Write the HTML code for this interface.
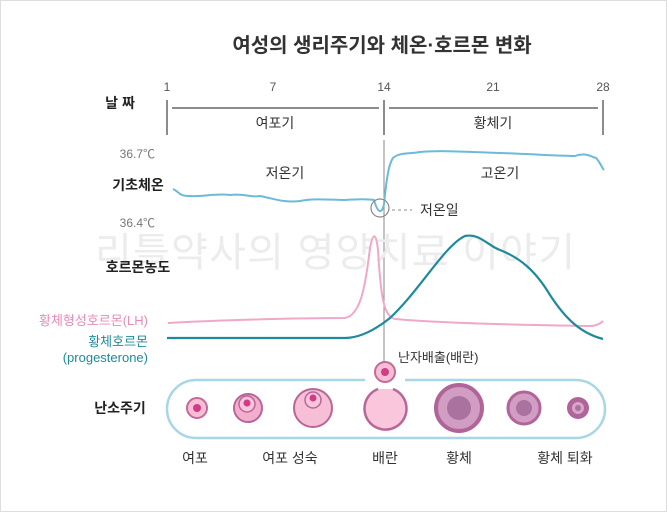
<!DOCTYPE html>
<html><head><meta charset="utf-8"><style>
html,body{margin:0;padding:0;background:#fff}
body{width:667px;height:512px;overflow:hidden;font-family:"Liberation Sans","Noto Sans CJK KR",sans-serif}
</style></head><body>
<svg width="667" height="512" viewBox="0 0 667 512" xmlns="http://www.w3.org/2000/svg" font-family="Liberation Sans, Noto Sans CJK KR, sans-serif">
<rect x="0.5" y="0.5" width="666" height="511" fill="#fff" stroke="#ddd"/>
<text x="382" y="52" font-size="20" text-anchor="middle" fill="#333" font-weight="bold">여성의 생리주기와 체온·호르몬 변화</text>
<g font-size="12" fill="#555" text-anchor="middle">
<text x="167" y="91">1</text><text x="273" y="91">7</text><text x="384" y="91">14</text><text x="493" y="91">21</text><text x="603" y="91">28</text>
</g>
<text x="120" y="108" font-size="14" fill="#222" font-weight="bold" text-anchor="middle">날 짜</text>
<g stroke="#666" stroke-width="1.5">
<line x1="167" y1="100" x2="167" y2="135"/><line x1="384" y1="100" x2="384" y2="135"/><line x1="603" y1="100" x2="603" y2="135"/>
<line x1="172" y1="108" x2="379" y2="108"/><line x1="389" y1="108" x2="598" y2="108"/>
</g>
<text x="275" y="128" font-size="14" fill="#333" text-anchor="middle">여포기</text>
<text x="493" y="128" font-size="14" fill="#333" text-anchor="middle">황체기</text>
<line x1="384" y1="140" x2="384" y2="368" stroke="#888" stroke-width="1"/>
<text x="335" y="266" font-size="40" fill="#ececec" text-anchor="middle" textLength="480">리틀약사의 영양치료 이야기</text>
<text x="155" y="158" font-size="12" fill="#777" text-anchor="end">36.7℃</text>
<text x="155" y="227" font-size="12" fill="#777" text-anchor="end">36.4℃</text>
<text x="138" y="190" font-size="14" fill="#222" font-weight="bold" text-anchor="middle">기초체온</text>
<text x="285" y="178" font-size="14" fill="#333" text-anchor="middle">저온기</text>
<text x="500" y="178" font-size="14" fill="#333" text-anchor="middle">고온기</text>
<path d="M173,189 C180,192 178,196 190,196 C205,197 215,193 230,195 C245,193 250,198 260,196 C275,199 285,203 300,201 C315,198 330,200 345,200 C358,199 368,199 374,200 C378,214 382,214 384,204 C386,185 388,165 393,158 C400,152 410,154 420,152 C440,150 470,152 500,153 C530,154 560,156 575,156 C585,152 592,157 596,158 C600,162 602,168 604,170" fill="none" stroke="#6bbbd8" stroke-width="2"/>
<circle cx="380" cy="208" r="9" fill="none" stroke="#888" stroke-width="1.2"/>
<line x1="392" y1="210" x2="412" y2="210" stroke="#888" stroke-dasharray="3,3"/>
<text x="420" y="215" font-size="14" fill="#333">저온일</text>
<text x="138" y="272" font-size="14" fill="#222" font-weight="bold" text-anchor="middle">호르몬농도</text>
<text x="148" y="325" font-size="13" fill="#e48bb6" text-anchor="end">황체형성호르몬(LH)</text>
<text x="148" y="346" font-size="13" fill="#1f8a9a" text-anchor="end">황체호르몬</text>
<text x="148" y="362" font-size="13" fill="#1f8a9a" text-anchor="end">(progesterone)</text>
<path d="M168,323 C220,320 300,318 345,318 C360,315 365,290 370,248 C373,232 376,232 378,250 C381,300 384,316 395,319 C440,323 520,325 590,326 C596,326 600,324 603,321" fill="none" stroke="#f0a8c8" stroke-width="2"/>
<path d="M167,338 L345,338 C360,338 375,330 390,318 C420,290 445,245 465,236 C480,233 488,246 500,250 C520,258 535,270 550,295 C565,318 580,333 603,339" fill="none" stroke="#1f8a9a" stroke-width="2.2"/>
<text x="398" y="362" font-size="13" fill="#333">난자배출(배란)</text>
<text x="120" y="413" font-size="14" fill="#222" font-weight="bold" text-anchor="middle">난소주기</text>
<path d="M365,380 L196,380 A29,29 0 0 0 196,438 L576,438 A29,29 0 0 0 576,380 L405,380" fill="none" stroke="#a8d6e6" stroke-width="2.5"/>
<circle cx="385" cy="372" r="10" fill="#f7bfd6" stroke="#c46a9a" stroke-width="2"/><circle cx="385" cy="372" r="4" fill="#d23b85"/>
<circle cx="197" cy="408" r="10" fill="#f7bfd6" stroke="#c46a9a" stroke-width="2"/><circle cx="197" cy="408" r="4" fill="#d23b85"/>
<circle cx="248" cy="408" r="14" fill="#f3aecd" stroke="#b8669a" stroke-width="2"/><circle cx="247" cy="404" r="8" fill="#f7c6db" stroke="#b8669a" stroke-width="1.5"/><circle cx="247" cy="403" r="3.5" fill="#d23b85"/>
<circle cx="313" cy="408" r="19" fill="#f7bfd6" stroke="#b8669a" stroke-width="2"/><circle cx="313" cy="400" r="8" fill="#f7c6db" stroke="#b8669a" stroke-width="1.5"/><circle cx="313" cy="398" r="3.5" fill="#d23b85"/>
<path d="M378,389 A21,21 0 1 0 393,389" fill="#f9c6dc" stroke="#b8669a" stroke-width="2.5"/>
<circle cx="459" cy="408" r="23" fill="#d19dc2" stroke="#b0649a" stroke-width="4"/><circle cx="459" cy="408" r="12" fill="#a9729f"/>
<circle cx="524" cy="408" r="16" fill="#d19dc2" stroke="#b0649a" stroke-width="3"/><circle cx="524" cy="408" r="8" fill="#a9729f"/>
<circle cx="578" cy="408" r="11" fill="#b0649a"/><circle cx="578" cy="408" r="6" fill="#d9a6c7"/><circle cx="578" cy="408" r="3" fill="#a9729f"/>
<g font-size="14" fill="#333" text-anchor="middle">
<text x="195" y="463">여포</text><text x="290" y="463">여포 성숙</text><text x="385" y="463">배란</text><text x="459" y="463">황체</text><text x="565" y="463">황체 퇴화</text>
</g>
</svg>
</body></html>
